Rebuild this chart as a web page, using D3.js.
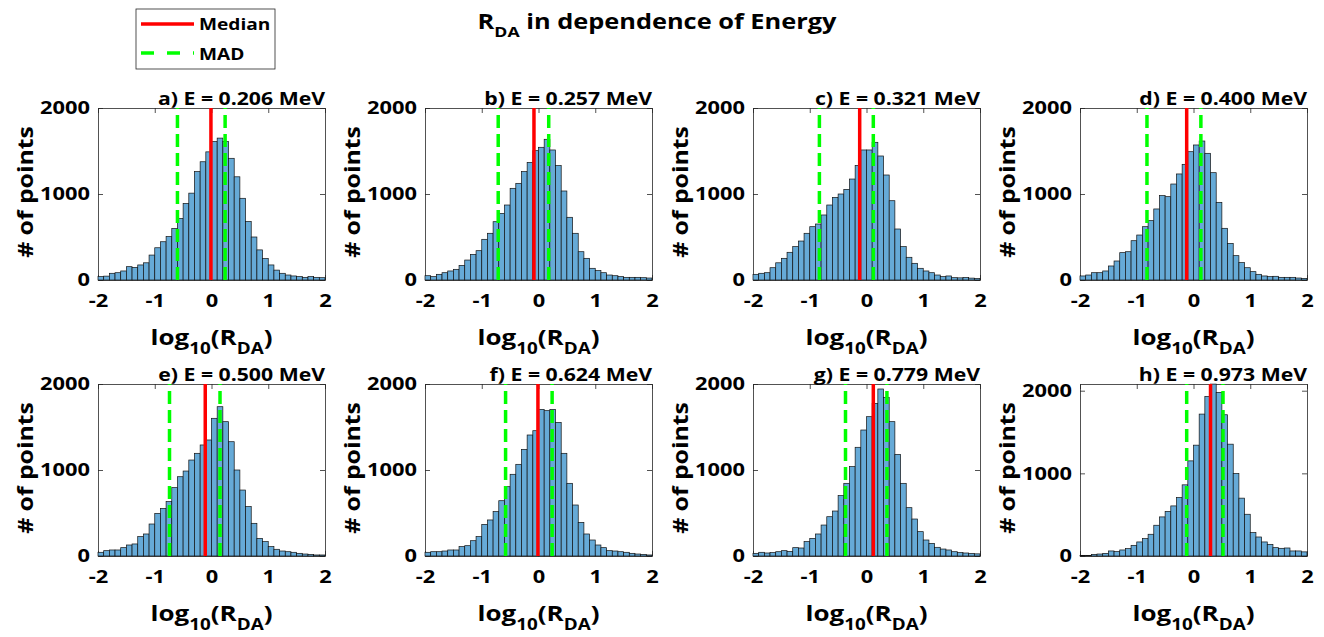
<!DOCTYPE html>
<html>
<head>
<meta charset="utf-8">
<script src="https://cdn.jsdelivr.net/npm/d3@7"></script>
<style>
body { margin: 0; background: #fff; }
svg text { font-family: "Open Sans", "Noto Sans", sans-serif; font-weight: bold; fill: #000; }
</style>
</head>
<body>
<div id="demo"></div>
<script>

// bin edges of the histograms (log10 R_DA)
var binEdges = [-2.0, -1.9, -1.8, -1.7, -1.6, -1.5, -1.4, -1.3, -1.2, -1.1,
	-1.0, -0.9, -0.8, -0.7, -0.6, -0.5, -0.4, -0.3, -0.2, -0.1,
	0.0, 0.1, 0.2, 0.3, 0.4, 0.5, 0.6, 0.7, 0.8, 0.9,
	1.0, 1.1, 1.2, 1.3, 1.4, 1.5, 1.6, 1.7, 1.8, 1.9, 2.0];

// panel letters and energies
var panelLetters = ['a', 'b', 'c', 'd', 'e', 'f', 'g', 'h'];
var energies = ['0.206', '0.257', '0.321', '0.400', '0.500', '0.624', '0.779', '0.973'];

// counts per bin
var countsA = [40,45,78,85,105,155,147,175,200,290, 375,445,505,600,715,890,1010,1260,1375,1490,
	1610,1650,1610,1415,1200,950,680,500,350,250, 175,115,78,58,47,39,31,39,31,27];
var countsB = [50,39,66,85,105,124,170,232,298,341, 473,543,678,775,872,1066,1124,1260,1368,1504,
	1543,1636,1512,1330,1035,729,543,329,252,136, 109,85,58,50,39,31,31,31,27,23];
var countsC = [66,78,85,143,200,252,322,388,453,543, 620,651,756,872,961,1000,1054,1174,1333,1512,
	1512,1601,1442,1221,922,593,388,264,194,136, 105,85,58,39,47,27,25,30,22,18];
var countsD = [47,58,85,85,105,163,221,318,329,457, 523,620,690,826,981,969,1116,1233,1345,1492,
	1570,1616,1473,1248,903,601,426,283,202,143, 97,66,47,39,43,31,31,31,23,19];
var countsE = [43,62,70,70,97,128,140,225,256,372, 496,554,632,795,922,988,1116,1194,1291,1349,
	1601,1736,1562,1329,1000,767,574,380,205,167, 109,78,58,50,43,31,23,19,12,12];
var countsF = [43,50,50,58,70,70,109,120,178,225, 368,419,516,643,806,950,1066,1240,1407,1457,
	1705,1690,1705,1554,1194,845,593,391,256,186, 128,97,62,58,50,43,31,23,19,12];
var countsG = [31,43,35,39,50,62,54,97,93,167, 205,256,360,457,523,702,845,1039,1264,1465,
	1620,1775,1942,1845,1562,1182,845,562,430,283, 186,147,101,81,70,50,40,35,30,25];
var countsH = [8,8,20,24,32,61,53,73,89,129, 170,210,263,372,473,540,606,707,861,1151,
	1341,1717,1931,2080,1980,1709,1353,998,700,505, 283,230,170,141,101,93,97,61,61,50];
var countsList = [countsA, countsB, countsC, countsD, countsE, countsF, countsG, countsH];

// median and MAD lines
var medians = [-0.01, -0.08, -0.12, -0.12, -0.11, -0.01, 0.12, 0.30];
var madLow  = [-0.60, -0.71, -0.83, -0.82, -0.74, -0.58, -0.37, -0.12];
var madHigh = [0.24, 0.18, 0.12, 0.13, 0.15, 0.24, 0.36, 0.52];

// axis limits and ticks
var yMax = [2000, 2000, 2000, 2000, 2000, 2000, 2000, 2081];
var xTicks = [-2, -1, 0, 1, 2];
var yTicks = [0, 1000, 2000];

// layout
var colLeft = [98, 425, 753, 1080];
var rowTop = [108, 384];
var pw = 227, ph = 172;
// the figure's lettering is wider than the fonts we have
var textStretch = 1.18;

var svg = d3.select("#demo").append("svg")
	.attr("width", 1324)
	.attr("height", 637);

// text placed at (x, y), stretched along its baseline
function addText(parent, x, y, anchor, size, angle) {
	return parent.append("g")
		.attr("transform", "translate(" + x + "," + y + ")" + (angle ? " rotate(" + angle + ")" : "") +
			" scale(" + textStretch + ",1)")
		.append("text")
		.attr("text-anchor", anchor)
		.style("font-size", size + "px");
}

// main title
var title = addText(svg, 657, 29, "middle", 21.5);
title.append("tspan").text("R");
title.append("tspan").attr("dy", 8).style("font-size", "15px").text("DA");
title.append("tspan").attr("dy", -8).text(" in dependence of Energy");

// panels
countsList.forEach(function(counts, p) {
	var ox = colLeft[p % 4];
	var oy = rowTop[Math.floor(p / 4)];
	var g = svg.append("g").attr("transform", "translate(" + ox + "," + oy + ")");

	var x = d3.scaleLinear().domain([-2, 2]).range([0, pw]);
	var y = d3.scaleLinear().domain([0, yMax[p]]).range([ph, 0]);

	// axes (inward ticks, box)
	var axB = g.append("g").attr("transform", "translate(0," + ph + ")")
		.call(d3.axisBottom(x).tickValues(xTicks).tickSizeInner(-5).tickSizeOuter(0).tickPadding(14)
			.tickFormat(function(d) { return d < 0 ? "-" + Math.abs(d) : String(d); }));
	var axL = g.append("g")
		.call(d3.axisLeft(y).tickValues(yTicks).tickSizeInner(-5).tickSizeOuter(0).tickPadding(8)
			.tickFormat(d3.format("d")));
	g.append("g")
		.call(d3.axisTop(x).tickValues(xTicks).tickSizeInner(-5).tickSizeOuter(0).tickFormat(""));
	g.append("g").attr("transform", "translate(" + pw + ",0)")
		.call(d3.axisRight(y).tickValues(yTicks).tickSizeInner(-5).tickSizeOuter(0).tickFormat(""));
	g.selectAll(".domain, .tick line").attr("stroke", "#262626").attr("stroke-width", 0.8);
	axB.selectAll(".tick text").style("font-size", "18.5px").attr("fill", "#000")
		.attr("transform", "scale(" + textStretch + ",1)");
	axL.selectAll(".tick text").style("font-size", "18.5px").attr("fill", "#000")
		.attr("x", -8 / textStretch)
		.attr("transform", "scale(" + textStretch + ",1)");

	// bars
	g.selectAll(".bar")
		.data(counts)
		.enter()
		.append("rect")
		.attr("class", "bar")
		.attr("x", function(d, i) { return x(binEdges[i]); })
		.attr("y", function(d) { return y(d); })
		.attr("width", function(d, i) { return x(binEdges[i + 1]) - x(binEdges[i]); })
		.attr("height", function(d) { return ph - y(d); })
		.attr("fill", "#66aad7")
		.attr("stroke", "#111")
		.attr("stroke-width", 0.7);

	// MAD lines
	[madLow[p], madHigh[p]].forEach(function(v) {
		g.append("line")
			.attr("x1", x(v)).attr("x2", x(v))
			.attr("y1", ph).attr("y2", 0)
			.attr("stroke", "#00ff00")
			.attr("stroke-width", 3.5)
			.attr("stroke-dasharray", "13,6");
	});

	// median line
	g.append("line")
		.attr("x1", x(medians[p])).attr("x2", x(medians[p]))
		.attr("y1", ph).attr("y2", 0)
		.attr("stroke", "#ff0000")
		.attr("stroke-width", 3.5);

	// panel title
	addText(g, pw, -3, "end", 18)
		.text(panelLetters[p] + ") E = " + energies[p] + " MeV");

	// y label
	addText(g, -65, ph / 2 - 2, "middle", 21, -90)
		.text("# of points");

	// x label
	var xl = addText(g, pw / 2, ph + 65, "middle", 22);
	xl.append("tspan").text("log");
	xl.append("tspan").attr("dy", 9).style("font-size", "16px").text("10");
	xl.append("tspan").attr("dy", -9).text("(R");
	xl.append("tspan").attr("dy", 9).style("font-size", "16px").text("DA");
	xl.append("tspan").attr("dy", -9).text(")");
});

// legend
var leg = svg.append("g");
leg.append("rect")
	.attr("x", 136).attr("y", 9).attr("width", 139).attr("height", 60)
	.attr("fill", "#fff").attr("stroke", "#262626").attr("stroke-width", 0.8);
leg.append("line")
	.attr("x1", 141).attr("x2", 194).attr("y1", 24).attr("y2", 24)
	.attr("stroke", "#ff0000").attr("stroke-width", 3.5);
leg.append("line")
	.attr("x1", 141).attr("x2", 194).attr("y1", 53).attr("y2", 53)
	.attr("stroke", "#00ff00").attr("stroke-width", 3.5)
	.attr("stroke-dasharray", "13,13");
addText(leg, 199, 30, "start", 16.2).text("Median");
addText(leg, 199, 60, "start", 16.2).text("MAD");

</script>
</body>
</html>
